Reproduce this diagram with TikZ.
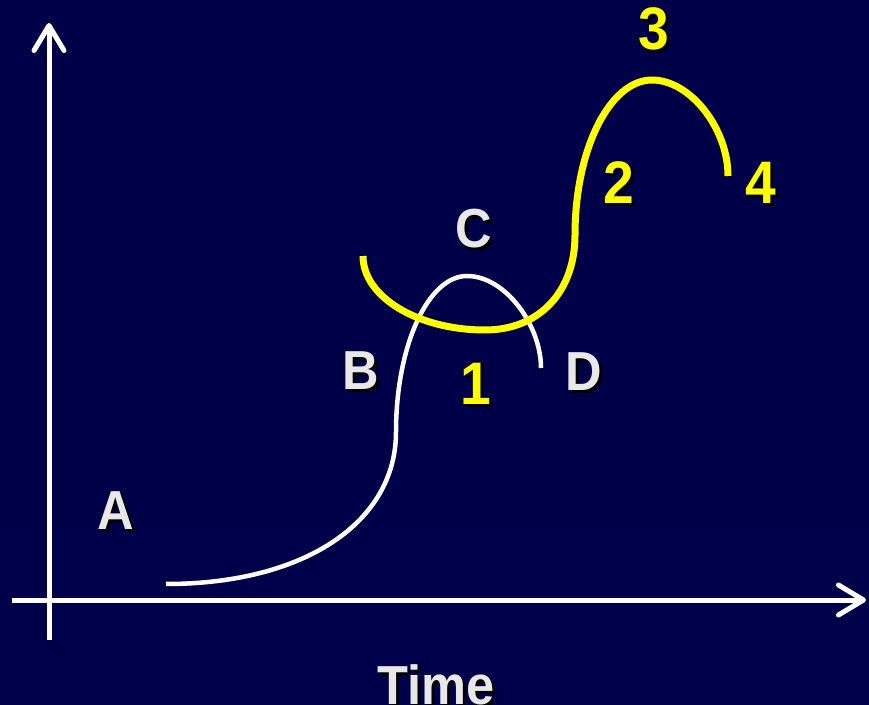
\documentclass[tikz,border=0pt]{standalone}
\usepackage{fontspec}
\setmainfont{Liberation Sans}
\usetikzlibrary{arrows.meta}
\definecolor{navytop}{HTML}{000048}
\definecolor{navymid}{HTML}{000062}
\definecolor{navybot}{HTML}{00004A}
\definecolor{lettergray}{HTML}{E8E8E8}
\definecolor{curveyellow}{HTML}{FFFF00}

\begin{document}
\begin{tikzpicture}[x=1pt, y=1pt,
	axis/.style={white, line width=5pt},
	axistip/.style={-{Straight Barb[length=25pt, width=30pt, round]}},
	firstcurve/.style={white, line width=4.5pt},
	secondcurve/.style={curveyellow, line width=7pt},
	lettertext/.style={inner sep=0pt, xscale=0.92, font=\fontsize{55}{60}\selectfont\bfseries},
	digittext/.style={inner sep=0pt, xscale=0.92, font=\fontsize{60}{66}\selectfont\bfseries}]
	\useasboundingbox (0,0) rectangle (869,704);
	\shade[top color=navytop, middle color=navymid, bottom color=navybot] (0,0) rectangle (869,704);
	% axes
	\coordinate (ybot) at (49,64);
	\coordinate (ytop) at (49,681);
	\coordinate (xleft) at (12,104);
	\coordinate (xright) at (866,104);
	\draw[axis, axistip] (ybot) -- (ytop);
	\draw[axis, axistip] (xleft) -- (xright);
	% white curve A - B - C - D
	\draw[firstcurve] (166,120) .. controls (305,120) and (396,182) .. (396,272)
		.. controls (396,358) and (428,428) .. (467,428)
		.. controls (505,428) and (541,379) .. (541,336);
	% yellow curve 1 - 2 - 3 - 4
	\draw[secondcurve] (363,448) .. controls (363,407) and (418,374) .. (485,374)
		.. controls (539,374) and (575,412) .. (575,469)
		.. controls (575,555) and (610,624) .. (652,624)
		.. controls (690,624) and (728,576) .. (728,528);
	% labels with drop shadow
	\foreach \x/\y/\t in {116/193/A, 361/333/B, 474/475/C, 584/332/D} {
		\node[lettertext, black] at (\x+3,\y-3) {\t};
		\node[lettertext, lettergray] (lbl\t) at (\x,\y) {\t};
	}
	\foreach \x/\y/\t in {476/320/1, 619/521/2, 654/675/3, 761/521/4} {
		\node[digittext, black] at (\x+3,\y-3) {\t};
		\node[digittext, curveyellow] (num\t) at (\x,\y) {\t};
	}
	\node[lettertext, black, anchor=base] at (439,-3) {Time};
	\node[lettertext, lettergray, anchor=base] (timelbl) at (436,0) {Time};
\end{tikzpicture}
\end{document}
